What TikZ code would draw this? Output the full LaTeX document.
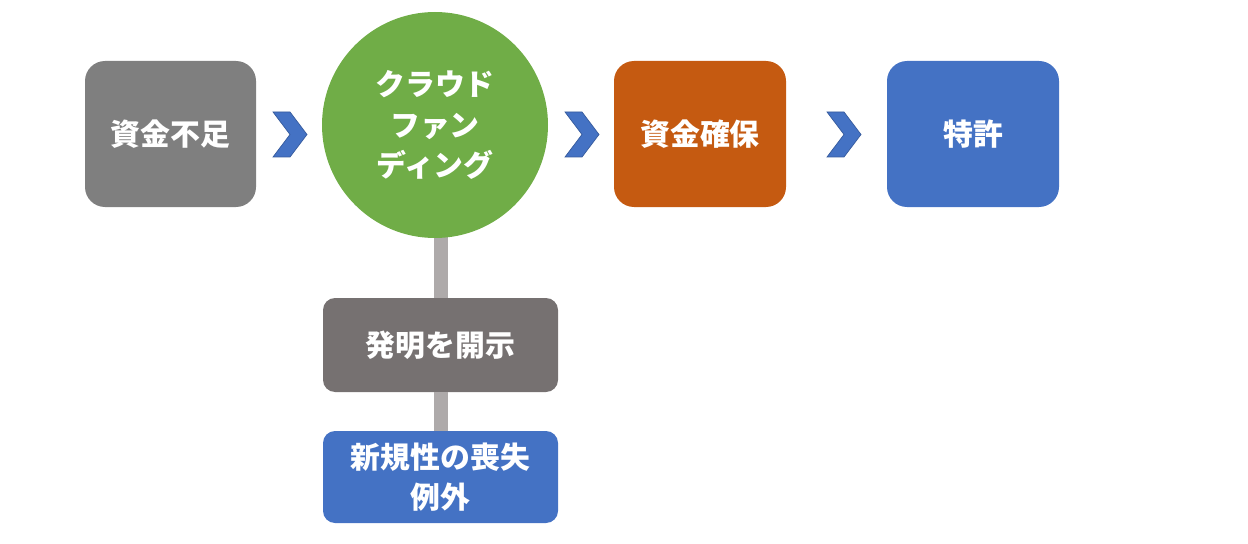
\documentclass[tikz,border=0pt]{standalone}
\usepackage{fontspec}
\newfontfamily\cjk{Noto Sans CJK JP}
\usepackage{tikz}
\definecolor{boxgray}{RGB}{127,127,127}
\definecolor{boxdark}{RGB}{118,113,113}
\definecolor{fundgreen}{RGB}{112,173,71}
\definecolor{fundorange}{RGB}{197,90,17}
\definecolor{fundblue}{RGB}{68,114,196}
\definecolor{linkgray}{RGB}{174,170,170}
\tikzset{
  stage/.style={rounded corners=20*0.02cm, inner sep=0pt, align=center, text=white,
    font=\cjk\bfseries\fontsize{17}{23}\selectfont},
  chev/.style={fill=fundblue, draw=fundblue!80!black, line width=0.4pt},
  link/.style={draw=linkgray, line width=14*0.02cm}
}
\begin{document}
\begin{tikzpicture}[x=0.02cm,y=-0.02cm]
\useasboundingbox (0,0) rectangle (1248,544);

% sub steps and links
\coordinate (crowdbase) at (440.5,230);
\node[stage, fill=boxdark, minimum width=235*0.02cm, minimum height=94*0.02cm, rounded corners=12*0.02cm] (disclose) at (440.5,345) {発明を開示};
\node[stage, fill=fundblue, minimum width=235*0.02cm, minimum height=92*0.02cm, rounded corners=12*0.02cm] (novelty) at (440.5,477) {新規性の喪失\\例外};
\draw[link] (crowdbase) -- (disclose.north);
\draw[link] (disclose.south) -- (novelty.north);

% top row
\node[stage, fill=fundgreen, circle, minimum size=226*0.02cm] (crowd) at (435,125) {クラウド\\ファン\\ディング};
\node[stage, fill=boxgray, minimum width=171*0.02cm, minimum height=146*0.02cm] (lack) at (170.5,134) {資金不足};
\node[stage, fill=fundorange, minimum width=172*0.02cm, minimum height=146*0.02cm] (secure) at (700,134) {資金確保};
\node[stage, fill=fundblue, minimum width=172*0.02cm, minimum height=146*0.02cm] (patent) at (973,134) {特許};

% chevrons
\foreach \x in {273,565,827}
  \draw[chev] (\x,112) -- ++(17,0) -- ++(17,22.5) -- ++(-17,22.5) -- ++(-17,0) -- ++(17,-22.5) -- cycle;
\end{tikzpicture}
\end{document}
